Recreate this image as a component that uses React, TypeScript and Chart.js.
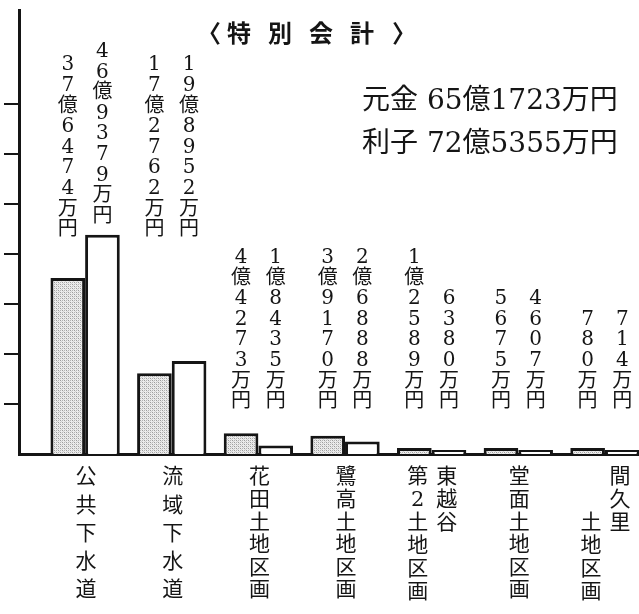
import { useEffect, useRef } from "react";
import { Chart, registerables } from "chart.js";

Chart.register(...registerables);

// ---- data (values in 万円) ----
const TITLE_CHARS = ["特", "別", "会", "計"];
const CATEGORIES = [
  "公共下水道",
  "流域下水道",
  "花田土地区画",
  "鷺高土地区画",
  "東越谷第2土地区画",
  "堂面土地区画",
  "間久里土地区画",
];
// vertical label columns, read right-to-left
const CATEGORY_COLUMNS = [
  ["公共下水道"],
  ["流域下水道"],
  ["花田土地区画"],
  ["鷺高土地区画"],
  ["東越谷", "第2土地区画"],
  ["堂面土地区画"],
  ["間久里", "土地区画"],
];
const SERIES_NAMES = ["元金", "利子"];
const PRINCIPAL = [376474, 172762, 44273, 39170, 12589, 5675, 780];
const INTEREST = [469379, 198952, 18435, 26888, 6380, 4607, 714];

const Y_MAX = 950000;
const TICK_STEP = 107000;
const TICK_COUNT = 7;

const FONT = '"DejaVu Serif", "Noto Sans CJK JP", serif';
const INK = "#151515";

function formatValue(v: number): string {
  const oku = Math.floor(v / 10000);
  const man = v % 10000;
  return (oku ? oku + "億" : "") + (man ? String(man) : "") + "万円";
}

function makePattern(): CanvasPattern | string {
  const c = document.createElement("canvas");
  c.width = 4;
  c.height = 4;
  const g = c.getContext("2d");
  if (!g) return "#cccccc";
  g.fillStyle = "#ececec";
  g.fillRect(0, 0, 4, 4);
  g.fillStyle = "#9c9c9c";
  g.fillRect(0, 0, 1, 1);
  g.fillRect(2, 2, 1, 1);
  g.fillStyle = "#b4b4b4";
  g.fillRect(2, 0, 1, 1);
  g.fillRect(0, 2, 1, 1);
  g.fillStyle = "#d2d2d2";
  g.fillRect(1, 1, 1, 1);
  g.fillRect(3, 3, 1, 1);
  const p = g.createPattern(c, "repeat");
  return p || "#cccccc";
}

const textPlugin = {
  id: "newspaperText",
  afterDraw(chart: any) {
    const ctx: CanvasRenderingContext2D = chart.ctx;
    const area = chart.chartArea;
    const xScale = chart.scales.x;
    ctx.save();
    ctx.fillStyle = INK;
    ctx.textAlign = "center";
    ctx.textBaseline = "middle";

    // title
    ctx.font = 'bold 24px "Noto Sans CJK JP", sans-serif';
    const tx0 = 239;
    const tstep = 41;
    TITLE_CHARS.forEach((c, k) => ctx.fillText(c, tx0 + k * tstep, 33));
    ctx.fillText("〈", tx0 - 30, 33);
    ctx.fillText("〉", tx0 + (TITLE_CHARS.length - 1) * tstep + 42, 33);

    // totals
    const sumP = PRINCIPAL.reduce((a, b) => a + b, 0);
    const sumI = INTEREST.reduce((a, b) => a + b, 0);
    ctx.textAlign = "left";
    ctx.font = `28px ${FONT}`;
    ctx.fillText(`${SERIES_NAMES[0]} ${formatValue(sumP)}`, 362, 102);
    ctx.fillText(`${SERIES_NAMES[1]} ${formatValue(sumI)}`, 362, 145);
    ctx.textAlign = "center";

    // value labels (vertical)
    const metas = [chart.getDatasetMeta(0), chart.getDatasetMeta(1)];
    const values = [PRINCIPAL, INTEREST];
    ctx.font = `20px ${FONT}`;
    CATEGORIES.forEach((_, i) => {
      const tops = metas.map((m: any) => m.data[i].y);
      const large = Math.min(...tops) < area.bottom - 60;
      const base = large ? 230 : 402;
      metas.forEach((m: any, d: number) => {
        const el = m.data[i];
        const chars = Array.from(formatValue(values[d][i]));
        const bottom = Math.min(base, el.y - 18);
        chars.forEach((c, k) =>
          ctx.fillText(c, el.x, bottom - (chars.length - 1 - k) * 20.6)
        );
      });
    });

    // category labels (vertical)
    ctx.font = `21px ${FONT}`;
    CATEGORY_COLUMNS.forEach((cols, i) => {
      const cx = xScale.getPixelForValue(i);
      if (cols.length === 1) {
        const chars = Array.from(cols[0]);
        const first = 478;
        const last = 591;
        const step = (last - first) / (chars.length - 1);
        chars.forEach((c, k) => ctx.fillText(c, cx + 1, first + k * step));
      } else {
        const step = 23;
        const rows = 6;
        // right column top-aligned
        Array.from(cols[0]).forEach((c, k) =>
          ctx.fillText(c, cx + 15, 478 + k * step)
        );
        // left column bottom-aligned
        const left = Array.from(cols[1]);
        left.forEach((c, k) =>
          ctx.fillText(c, cx - 14, 478 + (rows - left.length + k) * step)
        );
      }
    });
    ctx.restore();
  },
};

export default function App() {
  const ref = useRef<HTMLCanvasElement | null>(null);

  useEffect(() => {
    document.body.style.margin = "0";
    const canvas = ref.current;
    if (!canvas) return;
    const pattern = makePattern();
    const chart = new Chart(canvas, {
      type: "bar",
      data: {
        datasets: [
          {
            label: SERIES_NAMES[0],
            data: PRINCIPAL.map((v, i) => ({ x: i, y: v })),
            backgroundColor: pattern as any,
            borderColor: INK,
            borderWidth: 3,
            minBarLength: 6,
          },
          {
            label: SERIES_NAMES[1],
            data: INTEREST.map((v, i) => ({ x: i, y: v })),
            backgroundColor: "#ffffff",
            borderColor: INK,
            borderWidth: 3,
            minBarLength: 4,
          },
        ],
      },
      options: {
        responsive: false,
        animation: false,
        devicePixelRatio: 1,
        categoryPercentage: 0.8,
        barPercentage: 1.0,
        layout: { padding: { left: 4, top: 10, right: 0, bottom: 160 } },
        plugins: {
          legend: { display: false },
          tooltip: { enabled: false },
          title: { display: false },
        },
        scales: {
          x: {
            type: "linear",
            min: -0.763,
            max: 6.393,
            offset: false,
            z: 1,
            afterBuildTicks: (scale: any) => {
              scale.ticks = CATEGORIES.map((_, i) => ({ value: i }));
            },
            grid: { display: false, drawTicks: false },
            ticks: { display: false },
            border: { display: true, color: INK, width: 3 },
          },
          y: {
            min: 0,
            max: Y_MAX,
            z: 1,
            ticks: { display: false, stepSize: TICK_STEP },
            afterBuildTicks: (scale: any) => {
              const t = [];
              for (let k = 1; k <= TICK_COUNT; k++) t.push({ value: k * TICK_STEP });
              scale.ticks = t;
            },
            grid: {
              drawOnChartArea: false,
              drawTicks: true,
              tickLength: 15,
              color: INK,
              lineWidth: 2,
            },
            border: { display: true, color: INK, width: 3 },
          },
        },
      } as any,
      plugins: [textPlugin],
    });
    return () => chart.destroy();
  }, []);

  return (
    <div style={{ width: 639, height: 614, background: "#fff" }}>
      <canvas ref={ref} width={639} height={614} style={{ display: "block" }} />
    </div>
  );
}
